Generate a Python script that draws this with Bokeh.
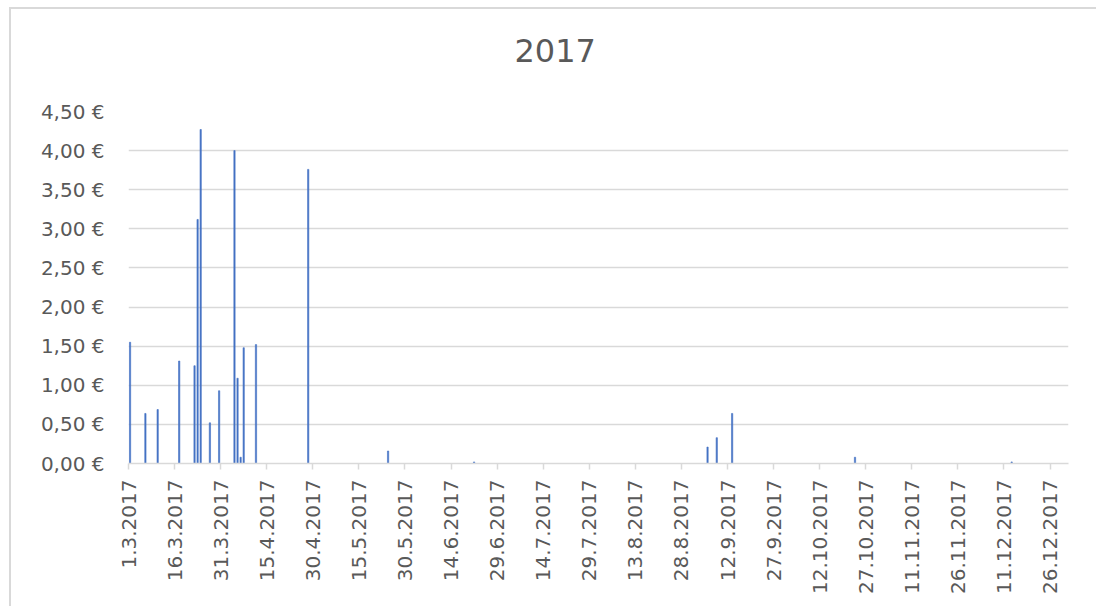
import math
import pandas as pd
from bokeh.plotting import figure
from bokeh.models import ColumnDataSource, FixedTicker, CustomJSTickFormatter, Range1d, Title
from bokeh.embed import file_html
from bokeh.resources import INLINE

# ---- data ----
dates = ["2017-03-01", "2017-03-06", "2017-03-10", "2017-03-17", "2017-03-22",
         "2017-03-23", "2017-03-24", "2017-03-27", "2017-03-30", "2017-04-04",
         "2017-04-05", "2017-04-06", "2017-04-07", "2017-04-11", "2017-04-28",
         "2017-05-24", "2017-06-21", "2017-09-05", "2017-09-08", "2017-09-13",
         "2017-10-23", "2017-12-13"]
values = [1.55, 0.64, 0.69, 1.31, 1.25,
          3.12, 4.27, 0.52, 0.93, 4.00,
          1.09, 0.08, 1.48, 1.52, 3.76,
          0.16, 0.02, 0.21, 0.33, 0.64,
          0.08, 0.02]
tick_dates = ["2017-03-01", "2017-03-16", "2017-03-31", "2017-04-15", "2017-04-30",
              "2017-05-15", "2017-05-30", "2017-06-14", "2017-06-29", "2017-07-14",
              "2017-07-29", "2017-08-13", "2017-08-28", "2017-09-12", "2017-09-27",
              "2017-10-12", "2017-10-27", "2017-11-11", "2017-11-26", "2017-12-11",
              "2017-12-26"]
y_ticks = [0, 0.5, 1.0, 1.5, 2.0, 2.5, 3.0, 3.5, 4.0, 4.5]
title_text = "2017"
start_date = "2017-03-01"
end_date = "2018-01-01"

t0 = pd.Timestamp(start_date)
day_pos = [(pd.Timestamp(d) - t0).days + 0.5 for d in dates]
tick_pos = [(pd.Timestamp(d) - t0).days for d in tick_dates]
tick_labels = {tp: f"{pd.Timestamp(d).day}.{pd.Timestamp(d).month}.{pd.Timestamp(d).year}"
               for tp, d in zip(tick_pos, tick_dates)}
x_end = (pd.Timestamp(end_date) - t0).days

src = ColumnDataSource(dict(x=day_pos, top=values))

TEXT = "#595959"
GRID = "#d9d9d9"
FONT = "DejaVu Sans"

p = figure(width=1087, height=599, output_backend="svg", toolbar_location=None,
           x_range=Range1d(0, x_end), y_range=Range1d(0, 4.5),
           min_border_left=117, min_border_right=30, min_border_top=102,
           min_border_bottom=145, background_fill_color="white",
           border_fill_color="white")
p.outline_line_color = None
p.styles = {"margin-left": "9px", "margin-top": "7px",
            "border-left": "2px solid #d9d9d9", "border-top": "2px solid #d9d9d9"}

p.vbar(x="x", top="top", width=0.42, bottom=0, source=src,
       fill_color="#4472C4", line_color="#4472C4", line_width=0.6)

# spacer between title and plot area
p.add_layout(Title(text=" ", text_font_size="1px", standoff=42), "above")

# title (outermost)
p.title.text = title_text
p.title.align = "left"
p.title.vertical_align = "bottom"
p.title.text_font = FONT
p.title.text_font_size = "32px"
p.title.text_font_style = "normal"
p.title.text_color = TEXT
p.title.offset = 386
p.title.standoff = 10

# x axis
xa = p.xaxis[0]
xa.ticker = FixedTicker(ticks=tick_pos)
xa.major_label_overrides = tick_labels
xa.major_label_orientation = math.pi / 2
xa.major_label_text_font = FONT
xa.major_label_text_font_size = "20px"
xa.major_label_text_color = TEXT
xa.axis_line_color = GRID
xa.axis_line_width = 1.5
xa.major_tick_line_color = GRID
xa.major_tick_line_width = 1.5
xa.major_tick_out = 6
xa.major_tick_in = 0
xa.minor_tick_line_color = None
xa.major_label_standoff = 10

# y axis
ya = p.yaxis[0]
ya.ticker = FixedTicker(ticks=y_ticks)
ya.formatter = CustomJSTickFormatter(code="return tick.toFixed(2).replace('.', ',') + ' €';")
ya.major_label_text_font = FONT
ya.major_label_text_font_size = "20px"
ya.major_label_text_color = TEXT
ya.axis_line_color = None
ya.major_tick_line_color = None
ya.minor_tick_line_color = None
ya.major_tick_out = 0
ya.major_label_standoff = 24

p.xgrid.grid_line_color = None
p.ygrid.grid_line_color = GRID
p.ygrid.grid_line_width = 1.5

open("out.html", "w").write(file_html(p, INLINE))
